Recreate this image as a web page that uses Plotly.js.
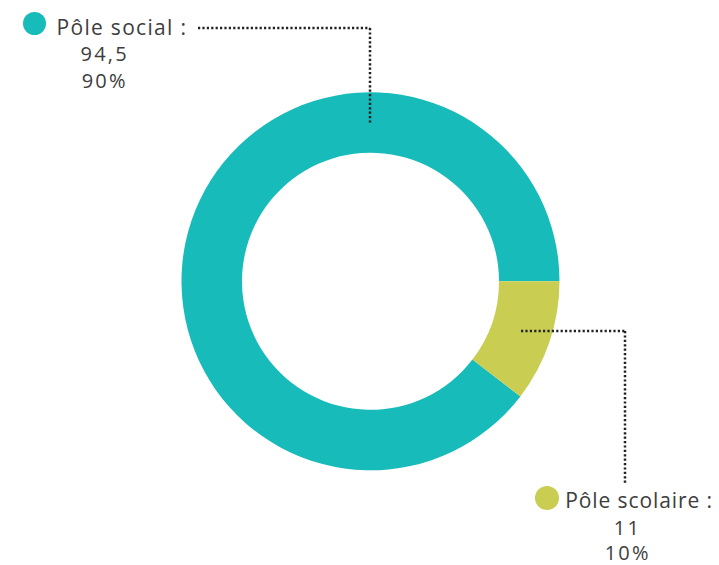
<!DOCTYPE html>
<html>
<head>
<meta charset="utf-8">
<script src="https://cdn.plot.ly/plotly-3.0.1.min.js"></script>
<style>
html,body{margin:0;padding:0;background:#fff;}
#chart{width:719px;height:565px;}
g.annotation[data-index="0"] text {letter-spacing:1.3px;}
g.annotation[data-index="3"] text {letter-spacing:0.9px;}
g.annotation[data-index="1"] text, g.annotation[data-index="2"] text,
g.annotation[data-index="4"] text, g.annotation[data-index="5"] text {letter-spacing:2.2px;}
</style>
</head>
<body>
<div id="chart"></div>
<script>
const categories = ["Pôle social", "Pôle scolaire"];
const values = [94.5, 11];
const valueLabels = ["94,5", "11"];
const percentLabels = ["90%", "10%"];
const colors = ["#17BBB9", "#C9CD52"];

const W = 719, H = 565;
const px = x => x / W;
const py = y => 1 - y / H;
const textColor = "#3d3d3d";
const fontFam = "Open Sans, sans-serif";
const total = values.reduce((a, b) => a + b, 0);

const trace = {
  type: "pie",
  labels: categories,
  values: values,
  marker: {colors: colors, line: {width: 0}},
  hole: 0.68,
  sort: false,
  direction: "clockwise",
  rotation: 90 + 360 * values[1] / total,
  textinfo: "none",
  hoverinfo: "none",
  showlegend: false,
  domain: {x: [px(181.5), px(559.5)], y: [py(470.3), py(92.3)]}
};

const annotations = [
  {text: categories[0] + " :", x: px(63), y: py(26.5), xanchor: "left", yanchor: "middle", font: {size: 21}},
  {text: valueLabels[0], x: px(104), y: py(53.5), xanchor: "center", yanchor: "middle", font: {size: 20}},
  {text: percentLabels[0], x: px(104), y: py(80), xanchor: "center", yanchor: "middle", font: {size: 20}},
  {text: categories[1] + " :", x: px(570), y: py(500), xanchor: "left", yanchor: "middle", font: {size: 21}},
  {text: valueLabels[1], x: px(627.5), y: py(527.5), xanchor: "center", yanchor: "middle", font: {size: 20}},
  {text: percentLabels[1], x: px(627), y: py(552), xanchor: "center", yanchor: "middle", font: {size: 20}}
].map(a => Object.assign({xref: "paper", yref: "paper", showarrow: false}, a, {font: Object.assign({family: fontFam, color: textColor}, a.font)}));

const lineStyle = {color: "#222", width: 2.5, dash: "2.2px,2.2px"};
const shapes = [
  {type: "line", x0: px(198), y0: py(28), x1: px(370), y1: py(28)},
  {type: "line", x0: px(370), y0: py(28), x1: px(370), y1: py(124)},
  {type: "line", x0: px(521), y0: py(331), x1: px(625), y1: py(331)},
  {type: "line", x0: px(625), y0: py(331), x1: px(625), y1: py(484)},
  {type: "circle", x0: px(23), y0: py(12), x1: px(46), y1: py(35), fillcolor: colors[0], line: {width: 0}},
  {type: "circle", x0: px(535), y0: py(486), x1: px(559), y1: py(510), fillcolor: colors[1], line: {width: 0}}
].map(s => Object.assign({xref: "paper", yref: "paper"}, s, s.type === "line" ? {line: lineStyle} : {}));

const layout = {
  width: W, height: H,
  margin: {l: 0, r: 0, t: 0, b: 0},
  paper_bgcolor: "#fff",
  plot_bgcolor: "#fff",
  annotations: annotations,
  shapes: shapes,
  font: {family: fontFam}
};

Plotly.newPlot("chart", [trace], layout, {displayModeBar: false, staticPlot: true});
</script>
</body>
</html>
